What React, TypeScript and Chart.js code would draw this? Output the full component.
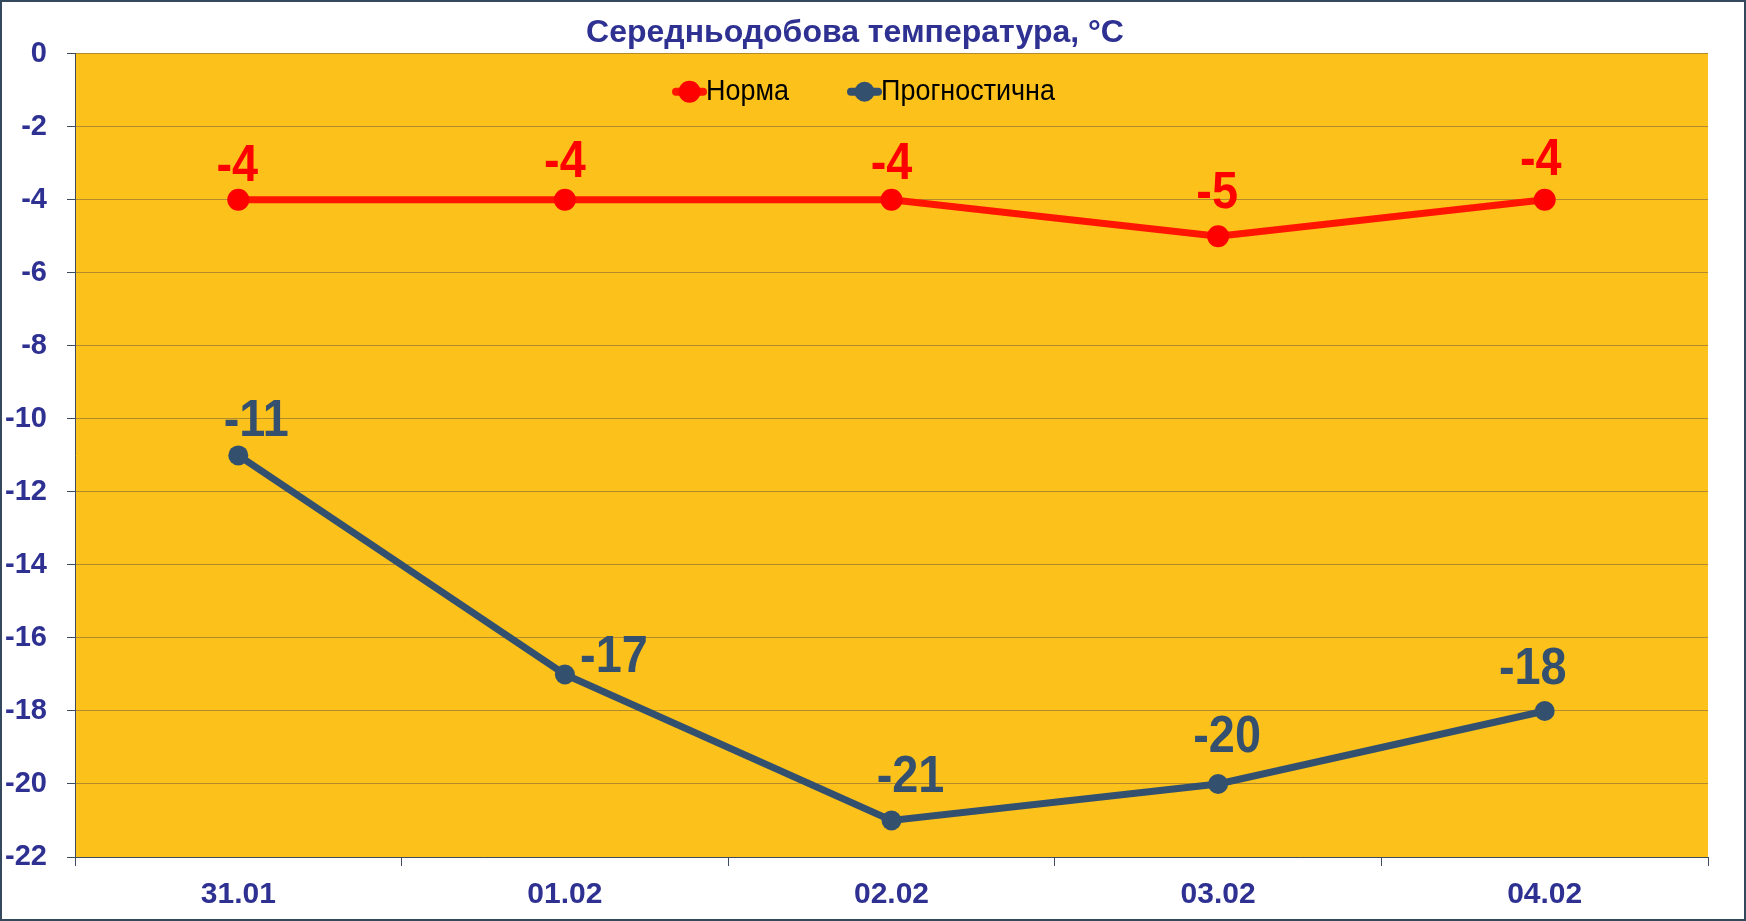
import React, { useEffect, useRef } from 'react';
import { Chart, registerables } from 'chart.js';

Chart.register(...registerables);

// ---- data ----
const categories = ['31.01', '01.02', '02.02', '03.02', '04.02'];
const normaValues = [-4, -4, -4, -5, -4];
const forecastValues = [-11, -17, -21, -20, -18];
const seriesNames = ['Норма', 'Прогностична'];
const titleText = 'Середньодобова температура, °C';
const yMin = -22;
const yMax = 0;
const yStep = 2;

// ---- style ----
const FONT = '"Liberation Sans", Arial, Helvetica, sans-serif';
const TEXT_BLUE = '#2e3192';
const PLOT_BG = '#fcc21b';
const GRID = '#b38a2c';
const AXIS = '#3d4c5c';
const RED_LINE = '#ff1500';
const RED_POINT = '#ff0000';
const BLUE = '#34506f';
const normaLabelOffsets = [[-1, -33], [0, -37], [0, -35], [-1, -43], [-4, -39]];
const forecastLabelOffsets = [[18, -34], [49, -17], [19, -43], [9, -46], [-12, -41]];
const LEGEND_DY = 38;
const LEGEND_SHIFT = -27.5;
const LABEL_SX = 0.9;
const LEGEND_SX = 0.93;

const plotBg = {
  id: 'plotBg',
  beforeDraw(chart: any) {
    const { ctx, chartArea: a } = chart;
    ctx.save();
    ctx.fillStyle = PLOT_BG;
    ctx.fillRect(a.left, a.top, a.right - a.left, a.bottom - a.top);
    ctx.restore();
  },
};

const pointLabels = {
  id: 'pointLabels',
  afterDatasetsDraw(chart: any) {
    const { ctx } = chart;
    chart.data.datasets.forEach((ds: any, di: number) => {
      const meta = chart.getDatasetMeta(di);
      const offs = ds.labelOffsets || [];
      meta.data.forEach((pt: any, i: number) => {
        const o = offs[i] || [0, -35];
        ctx.save();
        ctx.translate(pt.x + o[0], pt.y + o[1]);
        ctx.scale(LABEL_SX, 1);
        ctx.font = `bold 52px ${FONT}`;
        ctx.textAlign = 'center';
        ctx.textBaseline = 'middle';
        ctx.fillStyle = ds.labelColor;
        ctx.fillText(String(ds.data[i]), 0, 0);
        ctx.restore();
      });
    });
  },
};

const customLegend = {
  id: 'customLegend',
  afterDraw(chart: any) {
    const { ctx, chartArea: a } = chart;
    ctx.save();
    ctx.font = `29px ${FONT}`;
    const swatch = 33;
    const gap = 59;
    const items = chart.data.datasets.map((ds: any) => ({
      label: ds.label,
      color: ds.pointBackgroundColor,
      line: ds.borderColor,
      r: ds.pointRadius,
      w: ctx.measureText(ds.label).width * LEGEND_SX,
    }));
    const total = items.reduce((s: number, it: any) => s + swatch + it.w, 0) + gap * (items.length - 1);
    let x = (a.left + a.right) / 2 + LEGEND_SHIFT - total / 2;
    const y = a.top + LEGEND_DY;
    items.forEach((it: any) => {
      ctx.strokeStyle = it.line;
      ctx.lineWidth = 8;
      ctx.lineCap = 'round';
      ctx.beginPath();
      ctx.moveTo(x + 3, y);
      ctx.lineTo(x + swatch - 3, y);
      ctx.stroke();
      ctx.fillStyle = it.color;
      ctx.beginPath();
      ctx.arc(x + swatch / 2, y, it.r, 0, Math.PI * 2);
      ctx.fill();
      ctx.save();
      ctx.translate(x + swatch, y);
      ctx.scale(LEGEND_SX, 1);
      ctx.fillStyle = '#000000';
      ctx.textAlign = 'left';
      ctx.textBaseline = 'middle';
      ctx.fillText(it.label, 0, 0);
      ctx.restore();
      x += swatch + it.w + gap;
    });
    ctx.restore();
  },
};

export default function App() {
  const ref = useRef<HTMLCanvasElement | null>(null);

  useEffect(() => {
    if (!ref.current) return;
    const chart = new Chart(ref.current, {
      type: 'line',
      data: {
        labels: categories,
        datasets: [
          {
            label: seriesNames[0],
            data: normaValues,
            borderColor: RED_LINE,
            backgroundColor: RED_POINT,
            pointBackgroundColor: RED_POINT,
            pointBorderColor: RED_POINT,
            pointBorderWidth: 0,
            pointRadius: 11,
            borderWidth: 7,
            tension: 0,
            labelColor: '#ff0000',
            labelOffsets: normaLabelOffsets,
          } as any,
          {
            label: seriesNames[1],
            data: forecastValues,
            borderColor: BLUE,
            backgroundColor: BLUE,
            pointBackgroundColor: BLUE,
            pointBorderColor: BLUE,
            pointBorderWidth: 0,
            pointRadius: 10,
            borderWidth: 7,
            tension: 0,
            labelColor: '#34506e',
            labelOffsets: forecastLabelOffsets,
          } as any,
        ],
      },
      options: {
        responsive: false,
        animation: false,
        devicePixelRatio: 1,
        layout: { padding: { left: 0, right: 36, top: 0, bottom: 0 } },
        plugins: {
          legend: { display: false },
          tooltip: { enabled: false },
          title: {
            display: true,
            text: titleText,
            color: TEXT_BLUE,
            font: { family: FONT, size: 32, weight: 'bold', lineHeight: 1.2 },
            padding: { top: 12, bottom: 1.4 },
          },
        },
        scales: {
          x: {
            type: 'category',
            offset: true,
            grid: { offset: true, drawOnChartArea: false, color: AXIS, tickLength: 9, lineWidth: 1 },
            border: { display: true, color: AXIS, width: 1 },
            ticks: {
              color: TEXT_BLUE,
              font: { family: FONT, size: 30, weight: 'bold' },
              padding: 11,
              maxRotation: 0,
              autoSkip: false,
            },
            afterFit(s: any) {
              s.height = 62;
            },
          },
          y: {
            type: 'linear',
            min: yMin,
            max: yMax,
            ticks: {
              stepSize: yStep,
              color: TEXT_BLUE,
              font: { family: FONT, size: 29, weight: 'bold' },
              padding: 20,
            },
            grid: { color: GRID, tickColor: AXIS, tickLength: 8, lineWidth: 1 },
            border: { display: true, color: AXIS, width: 1 },
            afterFit(s: any) {
              s.width = 73;
            },
          },
        },
      } as any,
      plugins: [plotBg, pointLabels, customLegend],
    });
    return () => chart.destroy();
  }, []);

  return (
    <div
      style={{
        position: 'absolute',
        left: 0,
        top: 0,
        width: 1746,
        height: 921,
        boxSizing: 'border-box',
        border: '2px solid #34495e',
        background: '#ffffff',
      }}
    >
      <canvas ref={ref} width={1742} height={917} style={{ display: 'block', width: 1742, height: 917 }} />
    </div>
  );
}
